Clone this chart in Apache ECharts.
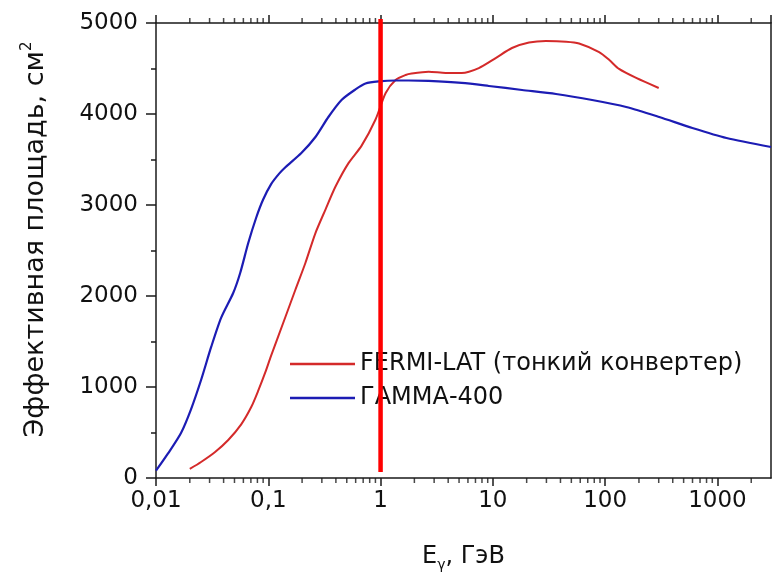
<!DOCTYPE html>
<html>
<head>
<meta charset="utf-8">
<script src="https://cdn.jsdelivr.net/npm/echarts@6/dist/echarts.min.js"></script>
<style>
html,body{margin:0;padding:0;background:#fff;}
#chart{width:774px;height:579px;}
</style>
</head>
<body>
<div id="chart"></div>
<script>
// ---- data ----
const xTickLabels = ["0,01", "0,1", "1", "10", "100", "1000"];
const seriesNames = ["FERMI-LAT (тонкий конвертер)", "ГАММА-400"];

const gammaE = [0.01, 0.0128, 0.0167, 0.0205, 0.0252, 0.031, 0.038, 0.0487, 0.0562, 0.0663, 0.078, 0.09, 0.106, 0.125, 0.142, 0.197, 0.263, 0.343, 0.449, 0.598, 0.734, 0.96, 1.36, 1.78, 2.68, 5.28, 9.21, 18.2, 36.5, 76.6, 154, 303, 598, 1204, 3000];
const gammaA = [80, 270, 495, 755, 1077, 1440, 1760, 2033, 2253, 2582, 2860, 3060, 3230, 3345, 3415, 3571, 3747, 3967, 4154, 4270, 4335, 4358, 4368, 4368, 4363, 4341, 4308, 4264, 4220, 4154, 4077, 3967, 3846, 3736, 3637];

const fermiE = [0.02, 0.0252, 0.0336, 0.044, 0.0574, 0.0705, 0.0814, 0.094, 0.106, 0.142, 0.174, 0.214, 0.263, 0.323, 0.396, 0.518, 0.676, 0.902, 1.11, 1.36, 1.67, 1.89, 2.68, 3.8, 5.28, 7.5, 10.6, 14.8, 21, 29.7, 44.9, 58.6, 88.4, 109, 133, 189, 300];
const fermiA = [100, 176, 286, 418, 590, 780, 960, 1160, 1345, 1769, 2066, 2363, 2692, 2950, 3200, 3460, 3650, 3940, 4231, 4374, 4429, 4445, 4465, 4451, 4451, 4505, 4615, 4725, 4785, 4802, 4795, 4775, 4681, 4593, 4495, 4396, 4286];

const markerE = 1;
const markerA = [65, 5045];

const minorTickE = [0.02,0.03,0.04,0.05,0.06,0.07,0.08,0.09, 0.2,0.3,0.4,0.5,0.6,0.7,0.8,0.9, 2,3,4,5,6,7,8,9, 20,30,40,50,60,70,80,90, 200,300,400,500,600,700,800,900, 2000];

const xMin = 0.01, xMax = 3000, yMin = 0, yMax = 5000;

// ---- build ----
const FONT = 'DejaVu Sans';
const pairs = (xs, ys) => xs.map((x, i) => [x, ys[i]]);
const AX = '#1a1a1a';
const RED = '#d42a2a', BLUE = '#1c1cb4';

const chart = echarts.init(document.getElementById('chart'), null, {renderer: 'canvas'});
chart.setOption({
  animation: false,
  backgroundColor: '#fff',
  grid: {left: 156, right: 3, top: 23, bottom: 101, containLabel: false},
  legend: {
    data: [
      {name: seriesNames[0], icon: 'rect', itemStyle: {color: RED}},
      {name: seriesNames[1], icon: 'rect', itemStyle: {color: BLUE}}
    ],
    orient: 'vertical',
    left: 285, top: 347,
    itemWidth: 65, itemHeight: 2.5, itemGap: 10,
    textStyle: {fontFamily: FONT, fontSize: 24, color: '#111', lineHeight: 24, height: 24},
    selectedMode: false
  },
  xAxis: [{
    type: 'log', logBase: 10, min: xMin, max: xMax, interval: 1,
    position: 'bottom',
    axisLine: {show: true, onZero: false, lineStyle: {color: AX, width: 1.5}},
    axisTick: {show: true, inside: false, length: 8, lineStyle: {color: AX, width: 1.5}},
    splitLine: {show: false},
    axisLabel: {
      fontFamily: FONT, fontSize: 23, color: '#111', margin: 12,
      formatter: v => { const i = Math.round(Math.log10(v)) + 2; return xTickLabels[i] !== undefined ? xTickLabels[i] : ''; }
    },
    name: 'E{sub|γ}, ГэВ',
    nameLocation: 'middle', nameGap: 64,
    nameTextStyle: {fontFamily: FONT, fontSize: 24, color: '#111', lineHeight: 30,
      rich: {sub: {fontFamily: FONT, fontSize: 14, color: '#111', verticalAlign: 'bottom', lineHeight: 30}}}
  }, {
    type: 'log', logBase: 10, min: xMin, max: xMax, interval: 1,
    position: 'top',
    axisLine: {show: true, onZero: false, lineStyle: {color: AX, width: 1.5}},
    axisTick: {show: true, inside: false, length: 8, lineStyle: {color: AX, width: 1.5}},
    axisLabel: {show: false}, splitLine: {show: false}
  }],
  yAxis: [{
    type: 'value', min: yMin, max: yMax, interval: 1000,
    position: 'left',
    axisLine: {show: true, onZero: false, lineStyle: {color: AX, width: 1.5}},
    axisTick: {show: true, inside: false, length: 10, lineStyle: {color: AX, width: 1.5}},
    minorTick: {show: true, splitNumber: 2, length: 5, lineStyle: {color: AX, width: 1.5}},
    splitLine: {show: false},
    axisLabel: {fontFamily: FONT, fontSize: 23, color: '#111', margin: 18, formatter: v => String(v)},
    name: 'Эффективная площадь, см{sup|2}',
    nameLocation: 'middle', nameGap: 104, nameRotate: 90,
    nameTextStyle: {fontFamily: FONT, fontSize: 27, color: '#111', lineHeight: 32, padding: [0, 0, 0, 22],
      rich: {sup: {fontFamily: FONT, fontSize: 15, color: '#111', verticalAlign: 'top', lineHeight: 32}}}
  }, {
    type: 'value', min: yMin, max: yMax, interval: 1000,
    position: 'right',
    axisLine: {show: true, onZero: false, lineStyle: {color: AX, width: 1.5}},
    axisTick: {show: false}, axisLabel: {show: false}, splitLine: {show: false}
  }],
  series: [
    {
      name: seriesNames[0], type: 'line', data: pairs(fermiE, fermiA),
      smooth: 0.25, symbol: 'none', showSymbol: false, color: RED,
      lineStyle: {color: RED, width: 2}, z: 3
    },
    {
      name: seriesNames[1], type: 'line', data: pairs(gammaE, gammaA),
      smooth: 0.25, symbol: 'none', showSymbol: false, color: BLUE,
      lineStyle: {color: BLUE, width: 2.2}, z: 3
    },
    {
      name: 'marker', type: 'line', data: markerA.map(a => [markerE, a]),
      symbol: 'none', clip: false, color: '#ff0000',
      lineStyle: {color: '#ff0000', width: 4.5}, z: 5, silent: true
    },
    {
      name: 'minorBottom', type: 'scatter', data: minorTickE.map(e => [e, yMin]),
      symbol: 'rect', symbolSize: [1.5, 5], symbolOffset: [0, 2.5], clip: false,
      itemStyle: {color: AX}, silent: true, z: 4
    },
    {
      name: 'minorTop', type: 'scatter', data: minorTickE.map(e => [e, yMax]),
      symbol: 'rect', symbolSize: [1.5, 5], symbolOffset: [0, -2.5], clip: false,
      itemStyle: {color: AX}, silent: true, z: 4
    }
  ]
});
</script>
</body>
</html>
